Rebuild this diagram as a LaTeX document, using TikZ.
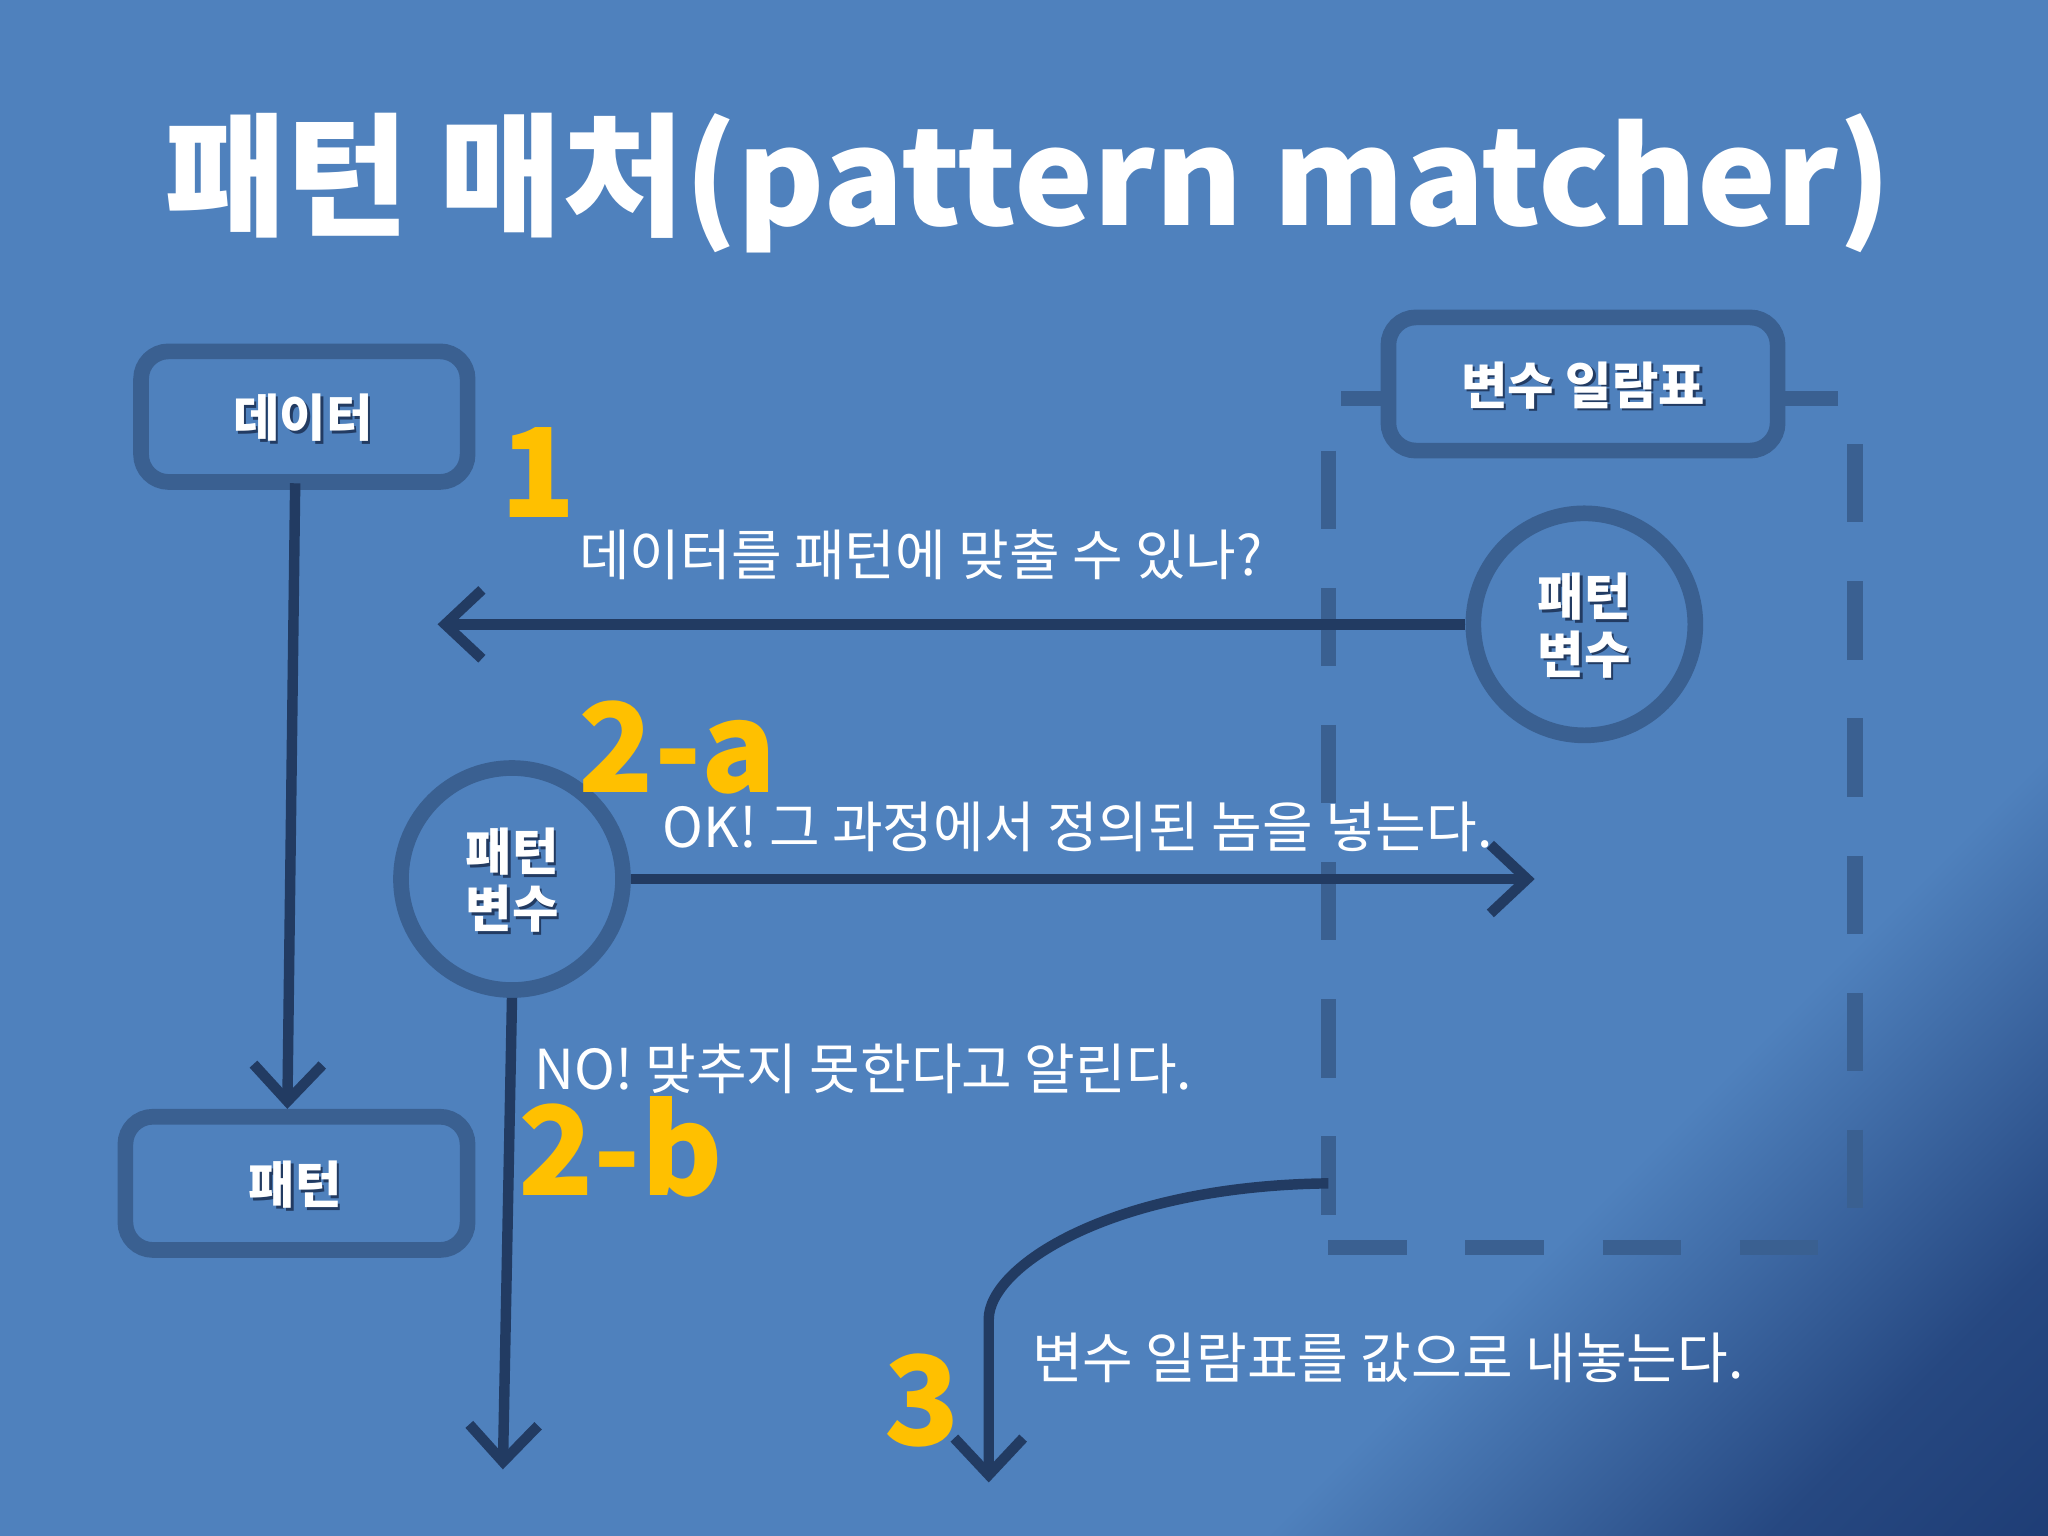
\documentclass[tikz,border=0pt]{standalone}
\usepackage{fontspec}
\setmainfont{Noto Sans CJK KR}
\usetikzlibrary{arrows.meta}
\definecolor{bg}{HTML}{4F81BD}
\definecolor{dk}{HTML}{223B62}
\definecolor{bx}{HTML}{3A6091}
\definecolor{yl}{HTML}{FFC000}
\definecolor{navy}{HTML}{0B2259}
\pgfdeclareverticalshading{cornersh}{100bp}{color(0bp)=(navy); color(20bp)=(navy!60!bg); color(30bp)=(bg); color(100bp)=(bg)}
\tikzset{
 pxs/.style={x=0.02cm,y=-0.02cm},
 boxst/.style={draw=bx,line width=12*0.02cm,rounded corners=12pt,fill=bg,inner sep=0pt},
 circst/.style={draw=bx,line width=12*0.02cm,circle,fill=bg,minimum size=170*0.02cm,inner sep=0pt},
 lab/.style={text=white,font=\bfseries\fontsize{22}{25}\selectfont,align=center},
 shd/.style={lab,text=dk},
 conn/.style={draw=dk,line width=8*0.02cm,-{Straight Barb[length=16pt,width=30pt,line width=8*0.02cm]}},
 num/.style={text=yl,font=\bfseries\fontsize{54}{56}\selectfont,inner sep=0pt},
 msg/.style={text=white,font=\fontsize{24}{27}\selectfont,inner sep=0pt},
}
\begin{document}
\begin{tikzpicture}[pxs]
\useasboundingbox (0,0) rectangle (1568,1176);
\shade[shading=cornersh,shading angle=45] (0,0) rectangle (1568,1176);
% title
\node[text=white,font=\bfseries\fontsize{58}{62}\selectfont,inner sep=0pt] (title) at (787,140) {패턴 매처(pattern matcher)};
% dashed frame
\draw[bx,line width=12*0.02cm,dash pattern=on 60*0.02cm off 45*0.02cm,dash phase=0] (1017,345) -- (1017,955);
\draw[bx,line width=12*0.02cm,dash pattern=on 60*0.02cm off 45*0.02cm] (1017,955) -- (1420,955);
\draw[bx,line width=12*0.02cm,dash pattern=on 60*0.02cm off 45*0.02cm] (1420,340) -- (1420,955);
\draw[bx,line width=12*0.02cm] (1027,305) -- (1063,305) (1362,305) -- (1407,305);
% boxes
\node[boxst,minimum width=250*0.02cm,minimum height=100*0.02cm] (data) at (233,319) {};
\node[shd] at (234,322) {데이터};
\node[lab] at (232,320) {데이터};
\node[boxst,minimum width=262*0.02cm,minimum height=102*0.02cm] (pat) at (227,906) {};
\node[shd] at (228,909) {패턴};
\node[lab] at (226,907) {패턴};
\node[boxst,minimum width=298*0.02cm,minimum height=102*0.02cm] (tab) at (1212,294) {};
\node[shd] at (1214,297) {변수 일람표};
\node[lab] at (1212,295) {변수 일람표};
\node[circst] (pv1) at (1213,478) {};
\node[shd] at (1215,481) {패턴\\변수};
\node[lab] at (1213,479) {패턴\\변수};
\node[circst] (pv2) at (392,673) {};
\node[shd] at (394,676) {패턴\\변수};
\node[lab] at (392,674) {패턴\\변수};
% connectors
\coordinate (a1) at (335,478);
\coordinate (a2) at (1175,673);
\coordinate (a3) at (385,1125);
\coordinate (c0) at (1017,906);
\coordinate (a4) at (757,1135);
\draw[conn] (226,370) -- (pat.north -| 220,0);
\draw[conn] (pv1.west) -- (a1);
\draw[conn] (pv2.east) -- (a2);
\draw[conn] (pv2.south) -- (a3);
\draw[conn] (c0) .. controls (850,908) and (757,970) .. (757,1010) -- (a4);
% labels
\node[num] (n1) at (412,362) {1};
\node[msg] (m1) at (705,425) {데이터를 패턴에 맞출 수 있나?};
\node[num] (n2a) at (519,572) {2-a};
\node[msg,anchor=west] (m2a) at (507,633) {OK! 그 과정에서 정의된 놈을 넣는다.};
\node[msg,anchor=west] (m2b) at (409,818) {NO! 맞추지 못한다고 알린다.};
\node[num] (n2b) at (475,878) {2-b};
\node[num] (n3) at (706,1072) {3};
\node[msg,anchor=west] (m3) at (790,1040) {변수 일람표를 값으로 내놓는다.};
\end{tikzpicture}
\end{document}
